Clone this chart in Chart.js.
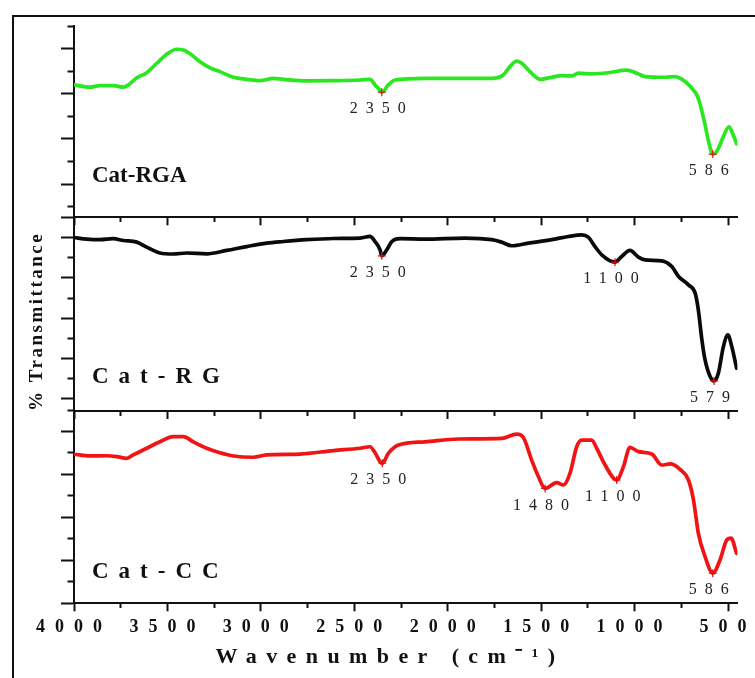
<!DOCTYPE html>
<html>
<head>
<meta charset="utf-8">
<script src="https://cdn.jsdelivr.net/npm/chart.js@4.4.0/dist/chart.umd.min.js"></script>
<style>
  html, body { margin: 0; padding: 0; background: #fff; }
  #fig { position: relative; width: 755px; height: 678px; overflow: hidden; }
  #frame { position: absolute; left: 12px; top: 15px; width: 800px; height: 700px;
           border-left: 2px solid #111; border-top: 2px solid #111; }
  canvas { position: absolute; left: 0; }
</style>
</head>
<body>
<div id="fig">
  <div id="frame"></div>
  <canvas id="rga" width="755" height="230" style="top:0px"></canvas>
  <canvas id="rg" width="755" height="224" style="top:200px"></canvas>
  <canvas id="cc" width="755" height="283" style="top:395px"></canvas>
</div>
<script>
// FTIR spectra, arbitrary %T units per panel (no y labels on the figure)
const xTickValues = [4000, 3750, 3500, 3250, 3000, 2750, 2500, 2250, 2000, 1750, 1500, 1250, 1000, 750, 500];

const rgaWn = [4000, 3914, 3861, 3790, 3736, 3709, 3664, 3611, 3557, 3504, 3450, 3415, 3370, 3326, 3272, 3219, 3147, 3076, 3005, 2933, 2880, 2755, 2612, 2469, 2416, 2389, 2362, 2353, 2318, 2282, 2122, 1943, 1765, 1703, 1667, 1631, 1604, 1560, 1506, 1444, 1390, 1336, 1301, 1229, 1141, 1042, 980, 944, 837, 784, 748, 704, 659, 623, 606, 582, 561, 525, 495, 472, 454];
const rgaT = [63.9, 62.9, 63.6, 63.6, 62.9, 63.9, 67.1, 69.3, 73.5, 77.5, 79.7, 79.4, 77.2, 74.2, 71.5, 69.8, 67.3, 66.4, 65.8, 66.8, 66.4, 65.7, 65.8, 66.1, 66.4, 63.9, 61.5, 60.7, 63.9, 66.1, 66.8, 66.8, 66.8, 68.3, 72.0, 74.5, 73.5, 69.8, 66.4, 67.3, 68.0, 67.9, 69.1, 68.8, 69.3, 70.5, 68.8, 67.6, 67.3, 67.6, 66.5, 63.4, 58.0, 46.2, 39.5, 33.3, 34.4, 41.0, 45.4, 41.7, 37.8];
const rgaPeakWn = [2353, 582];
const rgaPeakLabels = ['2350', '586'];
const rgaYTicks = [90, 80, 70, 60, 50, 40, 30, 20, 10];
const rgaYMajor = [80, 60, 40, 20];

const rgWn = [4000, 3932, 3861, 3790, 3736, 3664, 3611, 3540, 3469, 3397, 3290, 3183, 3076, 2969, 2880, 2755, 2612, 2469, 2416, 2389, 2362, 2353, 2326, 2299, 2255, 2122, 1908, 1765, 1712, 1658, 1569, 1444, 1355, 1283, 1248, 1212, 1176, 1105, 1069, 1025, 980, 944, 855, 801, 765, 712, 676, 659, 640, 623, 596, 575, 552, 525, 501, 480, 454];
const rgT = [90.0, 89.2, 88.9, 89.4, 88.5, 87.7, 85.2, 82.3, 81.8, 82.3, 81.9, 83.6, 85.5, 87.2, 88.0, 88.9, 89.5, 89.7, 90.5, 88.0, 83.9, 80.9, 83.9, 88.0, 89.4, 89.2, 89.7, 88.9, 87.7, 85.9, 87.2, 88.9, 90.5, 91.3, 90.2, 85.5, 81.4, 77.8, 80.6, 83.6, 80.3, 78.9, 78.4, 75.6, 70.7, 66.5, 62.4, 54.1, 39.3, 29.3, 21.1, 18.9, 22.7, 35.9, 41.7, 35.9, 25.2];
const rgPeakWn = [2353, 1105, 575];
const rgPeakLabels = ['2350', '1100', '579'];
const rgYTicks = [100, 90, 80, 70, 60, 50, 40, 30, 20, 10];
const rgYMajor = [100, 90, 70, 50, 30, 10];

const ccWn = [4000, 3914, 3825, 3771, 3718, 3683, 3611, 3540, 3469, 3415, 3362, 3290, 3219, 3147, 3040, 2969, 2791, 2612, 2469, 2416, 2389, 2362, 2350, 2318, 2264, 2122, 1943, 1711, 1631, 1596, 1551, 1515, 1479, 1417, 1381, 1346, 1310, 1283, 1230, 1203, 1158, 1096, 1060, 1025, 980, 908, 855, 810, 757, 712, 685, 659, 623, 582, 543, 507, 484, 454];
const ccT = [69.4, 68.6, 68.7, 68.3, 67.5, 69.1, 72.2, 75.2, 77.6, 77.6, 75.2, 72.2, 70.1, 68.6, 68.0, 69.1, 69.5, 71.1, 72.2, 72.9, 70.1, 65.9, 65.2, 69.8, 73.7, 75.2, 76.5, 76.8, 78.8, 77.3, 66.7, 59.0, 53.5, 56.2, 55.1, 60.5, 72.9, 76.0, 76.0, 72.2, 64.4, 57.4, 63.6, 72.6, 70.6, 69.5, 64.4, 64.9, 62.4, 57.4, 48.1, 32.6, 21.7, 14.0, 20.2, 29.5, 30.3, 23.3];
const ccPeakWn = [2350, 1479, 1096, 582];
const ccPeakLabels = ['2350', '1480', '1100', '586'];
const ccYTicks = [90, 80, 70, 60, 50, 40, 30, 20, 10, 0];
const ccYMajor = [80, 60, 40, 20, 0];

const SERIF = '"Liberation Serif", "Times New Roman", serif';

function makePanel(id, p) {
  const series = p.wn.map((w, i) => ({ x: w, y: p.t[i] }));
  const markers = p.peaks.map(w => ({ x: w, y: p.t[p.wn.indexOf(w)] }));

  const panelText = {
    id: 'panelText',
    beforeDraw(chart) {
      chart.ctx.letterSpacing = p.titleSpacing + 'px';
    },
    afterDatasetsDraw(chart) {
      const ctx = chart.ctx;
      const area = chart.chartArea;
      const pts = chart.getDatasetMeta(0).data;
      ctx.save();
      ctx.fillStyle = '#222';
      ctx.font = '16px ' + SERIF;
      ctx.letterSpacing = '8px';
      ctx.textAlign = 'center';
      ctx.textBaseline = 'middle';
      pts.forEach((pt, i) => ctx.fillText(p.peakLabels[i], pt.x, pt.y + 17));
      ctx.fillStyle = '#111';
      ctx.font = 'bold 23px ' + SERIF;
      ctx.letterSpacing = p.nameSpacing + 'px';
      ctx.textAlign = 'left';
      ctx.textBaseline = 'alphabetic';
      ctx.fillText(p.name, area.left + 18, area.bottom - p.nameLift);
      ctx.restore();
      ctx.letterSpacing = '10px'; // tick labels are drawn after this (ticks.z = 1)
    },
    afterDraw(chart) {
      chart.ctx.letterSpacing = '0px';
    }
  };

  return new Chart(document.getElementById(id), {
    type: 'line',
    data: {
      datasets: [
        {
          type: 'scatter', data: markers, order: 0,
          pointStyle: 'cross', pointRadius: 4, borderColor: '#e01010', borderWidth: 1.2
        },
        {
          data: series, order: 1,
          borderColor: p.color, borderWidth: 3.7, pointRadius: 0,
          tension: 0.4, cubicInterpolationMode: 'monotone',
          borderJoinStyle: 'round', borderCapStyle: 'round'
        }
      ]
    },
    options: {
      responsive: false,
      animation: false,
      events: [],
      layout: { padding: { top: p.padTop, right: 17.6, left: 0, bottom: 0 } },
      plugins: { legend: { display: false }, tooltip: { enabled: false } },
      scales: {
        x: {
          type: 'linear', reverse: true, min: 450, max: 4000,
          afterBuildTicks: s => { s.ticks = xTickValues.map(v => ({ value: v })); },
          afterFit: s => { s.height = p.xHeight; },
          grid: {
            drawOnChartArea: false, tickLength: 8, tickWidth: 2, tickColor: '#111',
            tickBorderDash: c => (c.tick && c.tick.value % 500 !== 0) ? [4, 30] : []
          },
          border: { display: true, color: '#111', width: 2 },
          ticks: {
            display: p.showX, autoSkip: false, maxRotation: 0, padding: 5, z: 1,
            color: '#111', font: { family: SERIF, size: 18, weight: 'bold' },
            callback: v => v % 500 === 0 ? String(v) : ''
          },
          title: {
            // trailing em space keeps the spaced-out title centred like the original
            display: p.showX, text: 'Wavenumber (cm\u207B\u00B9)\u2003', color: '#111',
            font: { family: SERIF, size: 22, weight: 'bold' },
            padding: { top: 0, bottom: 7.8 }
          }
        },
        y: {
          min: p.yMin, max: p.yMax,
          afterBuildTicks: s => { s.ticks = p.yTicks.map(v => ({ value: v })); },
          afterFit: s => { s.width = 74; },
          grid: {
            drawOnChartArea: false, tickLength: 13, tickWidth: 2, tickColor: '#111',
            tickBorderDash: c => (c.tick && p.yMajor.includes(c.tick.value)) ? [] : [0, 6.5, 30]
          },
          border: { display: true, color: '#111', width: 2 },
          ticks: { display: false },
          title: {
            display: p.yTitle, text: '% Transmittance  ', color: '#111',
            font: { family: SERIF, size: 19, weight: 'bold' },
            padding: { top: 26, bottom: 0 }
          }
        }
      }
    },
    plugins: [panelText]
  });
}

makePanel('rga', {
  wn: rgaWn, t: rgaT, peaks: rgaPeakWn, peakLabels: rgaPeakLabels,
  yTicks: rgaYTicks, yMajor: rgaYMajor, yMin: 5.3, yMax: 90,
  color: '#2ae820', name: 'Cat-RGA', nameSpacing: 0, nameLift: 35.3,
  padTop: 26, xHeight: 12.7, showX: false, yTitle: false, titleSpacing: 0
});

makePanel('rg', {
  wn: rgWn, t: rgT, peaks: rgPeakWn, peakLabels: rgPeakLabels,
  yTicks: rgYTicks, yMajor: rgYMajor, yMin: 4, yMax: 100,
  color: '#0a0a0a', name: 'Cat-RG', nameSpacing: 10, nameLift: 28,
  padTop: 17.3, xHeight: 13, showX: false, yTitle: true, titleSpacing: 2.5
});

makePanel('cc', {
  wn: ccWn, t: ccT, peaks: ccPeakWn, peakLabels: ccPeakLabels,
  yTicks: ccYTicks, yMajor: ccYMajor, yMin: 0, yMax: 90,
  color: '#f01414', name: 'Cat-CC', nameSpacing: 10, nameLift: 25.3,
  padTop: 15, xHeight: 74.7, showX: true, yTitle: false, titleSpacing: 9.4
});
</script>
</body>
</html>
